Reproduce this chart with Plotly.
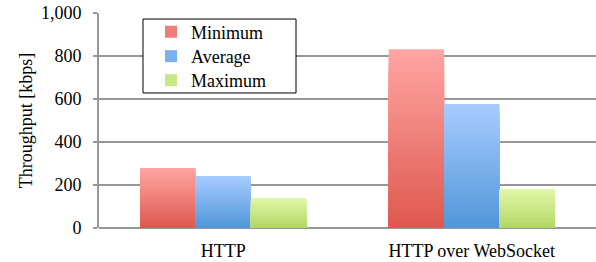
import plotly.graph_objects as go

categories = ["HTTP", "HTTP over WebSocket"]
series_names = ["Minimum", "Average", "Maximum"]
minimum = [279, 831]
average = [242, 577]
maximum = [140, 181]
y_ticks = [0, 200, 400, 600, 800, 1000]
y_tick_labels = ["0", "200", "400", "600", "800", "1,000"]

series_values = [minimum, average, maximum]
# (top colour, bottom colour) for the vertical gradient of each series
gradients = [
    ((255, 166, 164), (222, 88, 78)),
    ((168, 204, 255), (80, 150, 218)),
    ((226, 248, 168), (178, 214, 102)),
]
legend_ids = ["legend", "legend2", "legend3"]
legend_y = [0.9116, 0.7977, 0.686]

N = 40
fig = go.Figure()


def mix(c1, c2, t):
    return "rgb(%d,%d,%d)" % tuple(round(a + (b - a) * t) for a, b in zip(c1, c2))


for si, (name, vals) in enumerate(zip(series_names, series_values)):
    top, bottom = gradients[si]
    # overlapping bars, tallest (lightest) first, shortest (darkest) last
    for k in range(N):
        frac = (N - k) / N
        t = (N - k - 0.5) / N  # 1 top -> 0 bottom
        fig.add_trace(go.Bar(
            x=categories,
            y=[v * frac for v in vals],
            offsetgroup=name,
            legendgroup=name,
            legend=legend_ids[si],
            name=name,
            showlegend=(k == N // 2),
            marker=dict(color=mix(bottom, top, t), line=dict(width=0)),
            hoverinfo="skip",
        ))

font_family = "Liberation Serif, Tinos, Times New Roman, DejaVu Serif, serif"
legend_common = dict(
    x=0.1046, xanchor="left", yanchor="middle",
    bgcolor="rgba(0,0,0,0)", borderwidth=0,
    font=dict(size=18, family=font_family, color="black"),
    itemwidth=30,
)
fig.update_layout(
    width=596, height=262,
    margin=dict(l=99, r=0, t=13, b=34),
    paper_bgcolor="white", plot_bgcolor="white",
    barmode="group", bargap=0.332, bargroupgap=0,
    font=dict(family=font_family, size=18, color="black"),
    showlegend=True,
    legend=dict(y=legend_y[0], **legend_common),
    legend2=dict(y=legend_y[1], **legend_common),
    legend3=dict(y=legend_y[2], **legend_common),
    shapes=[dict(
        type="rect", xref="x domain", yref="y domain",
        x0=0.0885, x1=0.3964, y0=0.628, y1=0.972,
        line=dict(color="black", width=1), fillcolor="white", layer="above",
    )],
    xaxis=dict(
        showgrid=False, showline=False, ticks="", automargin=False,
        ticklabelstandoff=10,
        tickfont=dict(size=18, family=font_family),
    ),
    yaxis=dict(
        range=[0, 1000], tickvals=y_ticks, ticktext=y_tick_labels,
        automargin=False, ticklabeloverflow="allow",
        showgrid=True, gridcolor="#979797", gridwidth=2,
        zeroline=True, zerolinecolor="#979797", zerolinewidth=2,
        showline=True, linecolor="#979797", linewidth=2,
        ticks="outside", ticklen=4, tickcolor="#979797", tickwidth=2,
        ticklabelstandoff=8,
        tickfont=dict(size=18, family=font_family),
        title=dict(text="Throughput [kbps]", font=dict(size=18, family=font_family),
                   standoff=4),
    ),
)

fig.write_html(
    "out.html",
    config={"displayModeBar": False},
    post_script="document.body.style.margin='0';document.body.style.overflow='hidden';",
)
